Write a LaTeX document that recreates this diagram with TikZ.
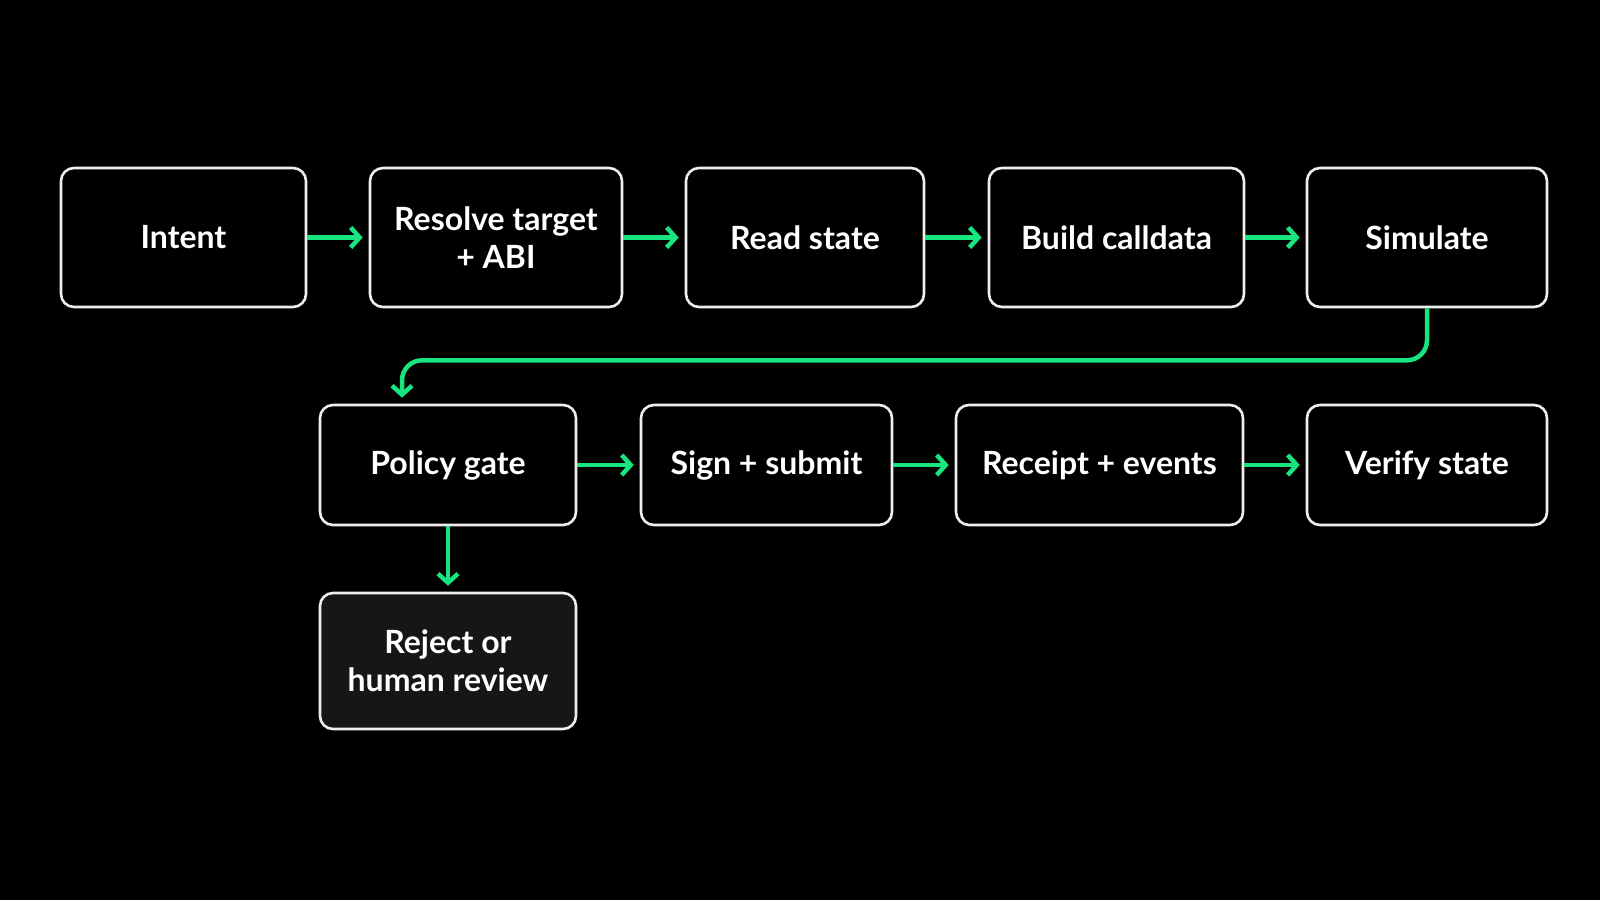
\documentclass[tikz,border=0pt]{standalone}
\usepackage{fontspec}
\setmainfont{Lato}
\usepackage{tikz}
\usetikzlibrary{arrows.meta,positioning,calc}
\definecolor{flowgreen}{RGB}{24,228,128}
\definecolor{boxline}{RGB}{238,238,238}
\definecolor{rejfill}{RGB}{22,22,24}
\begin{document}
\begin{tikzpicture}[x=1pt, y=-1pt, font=\bfseries\fontsize{32}{38}\selectfont,
  box/.style={rectangle, rounded corners=13pt, draw=boxline, line width=2.6pt, fill=#1, text=white, minimum height=139pt, align=center},
  box/.default=black,
  arr/.style={-{Straight Barb[length=9pt, width=20pt, line width=4.5pt]}, line width=4.5pt, draw=flowgreen, shorten >=6pt}]
  % Background
  \fill[black] (0,0) rectangle (1600,900);
  \useasboundingbox (0,0) rectangle (1600,900);
  % Top row
  \node[box, minimum width=245pt] (int) at (183.5,237.5) {Intent};
  \node[box, minimum width=252pt] (res) at (496,237.5)   {Resolve target\\+ ABI};
  \node[box, minimum width=238pt] (rd)  at (805,237.5)   {Read state};
  \node[box, minimum width=255pt] (bld) at (1116.5,237.5) {Build calldata};
  \node[box, minimum width=240pt] (sim) at (1427,237.5)  {Simulate};
  % Second row
  \node[box, minimum width=256pt, minimum height=120pt] (pol) at (448,465)    {Policy gate};
  \node[box, minimum width=251pt, minimum height=120pt] (sgn) at (766.5,465)  {Sign + submit};
  \node[box, minimum width=287pt, minimum height=120pt] (rcp) at (1099.5,465) {Receipt + events};
  \node[box, minimum width=240pt, minimum height=120pt] (ver) at (1427,465)   {Verify state};
  % Fallback
  \node[box=rejfill, minimum width=256pt, minimum height=136pt] (rej) at (448,661) {Reject or\\human review};
  % Arrows
  \draw[arr] (int) -- (res);
  \draw[arr] (res) -- (rd);
  \draw[arr] (rd)  -- (bld);
  \draw[arr] (bld) -- (sim);
  \coordinate (polin) at ($(pol.north)+(-46,0)$);
  \draw[arr, rounded corners=20pt] (sim.south) -- ++(0,52) -| (polin);
  \draw[arr] (pol) -- (sgn);
  \draw[arr] (sgn) -- (rcp);
  \draw[arr] (rcp) -- (ver);
  \draw[arr] (pol) -- (rej);
\end{tikzpicture}
\end{document}
